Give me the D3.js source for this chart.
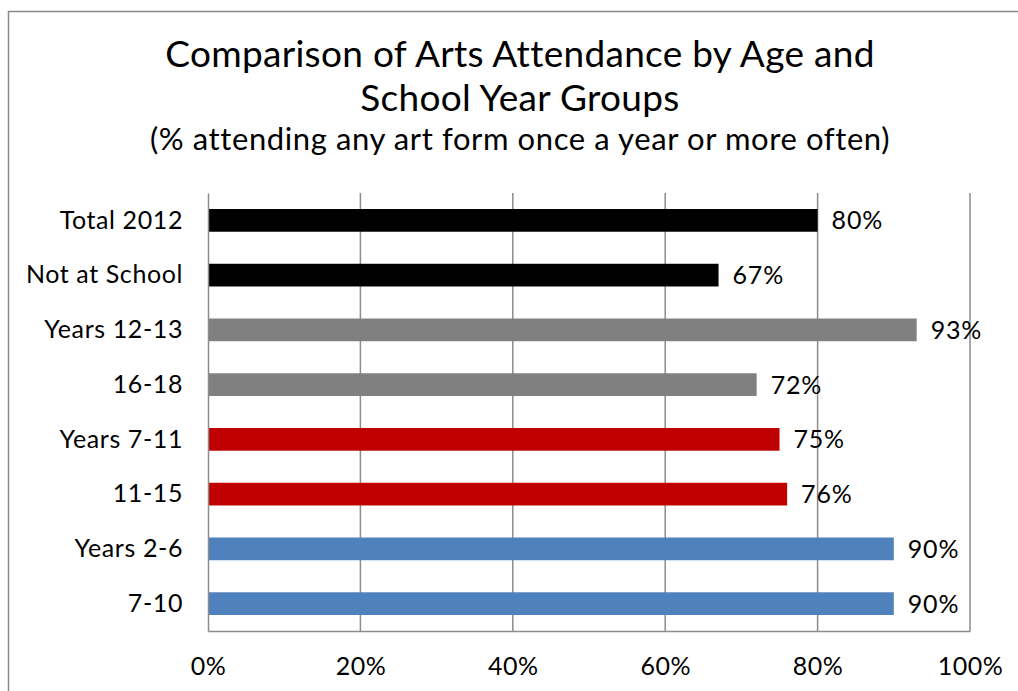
<!DOCTYPE html>
<html>
<head>
<meta charset="utf-8">
<script src="https://cdn.jsdelivr.net/npm/d3@7"></script>
<style>
  html, body { margin: 0; padding: 0; background: #fff; }
  svg { display: block; }
</style>
</head>
<body>
<svg id="chart" width="1018" height="691"></svg>
<script>
// Arts attendance by age / school year group (% attending once a year or more)
const categories = ["Total 2012", "Not at School", "Years 12-13", "16-18", "Years 7-11", "11-15", "Years 2-6", "7-10"];
const values = [80, 67, 93, 72, 75, 76, 90, 90];
const barColors = ["#000000", "#000000", "#808080", "#808080", "#C00000", "#C00000", "#4F81BD", "#4F81BD"];
const tickValues = [0, 20, 40, 60, 80, 100];
const titleLines = ["Comparison of Arts Attendance by Age and", "School Year Groups"];
const subtitle = "(% attending any art form once a year or more often)";

const svg = d3.select("#chart");
const W = 1018, H = 691;
const plot = { left: 208, right: 970, top: 193, bottom: 631 };
const gridColor = "#8c8c8c";
const titleFont = "Lato, 'Noto Sans', sans-serif";
const labelFont = "Lato, 'Noto Sans', sans-serif";

// chart frame
svg.append("path")
  .attr("d", `M8.5,${H + 2} V11.5 H${W + 2}`)
  .attr("fill", "none")
  .attr("stroke", "#8a8a8a")
  .attr("stroke-width", 1.5);

// titles
const cx = 520;
[[titleLines[0], 67], [titleLines[1], 111]].forEach(([t, yy]) => {
  svg.append("text")
    .attr("x", cx).attr("y", yy)
    .attr("text-anchor", "middle")
    .attr("font-family", titleFont)
    .attr("font-size", 37)
    .attr("letter-spacing", 0.3)
    .attr("fill", "#000")
    .text(t);
});
svg.append("text")
  .attr("x", cx).attr("y", 150)
  .attr("text-anchor", "middle")
  .attr("font-family", titleFont)
  .attr("font-size", 31)
  .attr("letter-spacing", 0.6)
  .attr("fill", "#000")
  .text(subtitle);

// scales
const x = d3.scaleLinear().domain([0, 100]).range([plot.left, plot.right]);
const y = d3.scaleBand().domain(categories).range([plot.top, plot.bottom])
  .paddingInner(0.585).paddingOuter(0.2925);

// vertical gridlines
svg.append("g")
  .selectAll("line")
  .data(tickValues.filter(t => t > 0))
  .join("line")
  .attr("x1", d => x(d)).attr("x2", d => x(d))
  .attr("y1", plot.top).attr("y2", plot.bottom)
  .attr("stroke", gridColor)
  .attr("stroke-width", 1.5);

// bars
svg.append("g")
  .selectAll("rect")
  .data(categories)
  .join("rect")
  .attr("x", x(0))
  .attr("y", d => y(d))
  .attr("width", (d, i) => x(values[i]) - x(0))
  .attr("height", y.bandwidth())
  .attr("fill", (d, i) => barColors[i]);

// value labels
svg.append("g")
  .selectAll("text")
  .data(categories)
  .join("text")
  .attr("x", (d, i) => x(values[i]) + 14)
  .attr("y", d => y(d) + y.bandwidth() / 2 + 9)
  .attr("font-family", labelFont)
  .attr("font-size", 25)
  .attr("letter-spacing", 0.8)
  .attr("fill", "#000")
  .text((d, i) => values[i] + "%");

// category axis (left)
const yAxis = d3.axisLeft(y).tickSize(0).tickPadding(25);
const gy = svg.append("g").attr("transform", `translate(${plot.left},0)`).call(yAxis);
gy.select(".domain").attr("stroke", gridColor).attr("stroke-width", 1.5);
gy.selectAll("text")
  .attr("font-family", titleFont)
  .attr("font-size", 25)
  .attr("letter-spacing", 0.6)
  .attr("fill", "#000")
  .attr("dy", "0.33em");

// value axis (bottom)
const xAxis = d3.axisBottom(x).tickValues(tickValues).tickSize(0).tickPadding(26)
  .tickFormat(d => d + "%");
const gx = svg.append("g").attr("transform", `translate(0,${plot.bottom})`).call(xAxis);
gx.select(".domain").attr("stroke", gridColor).attr("stroke-width", 1.5);
gx.selectAll("text")
  .attr("font-family", labelFont)
  .attr("font-size", 25)
  .attr("letter-spacing", 0.5)
  .attr("fill", "#000");
</script>
</body>
</html>
